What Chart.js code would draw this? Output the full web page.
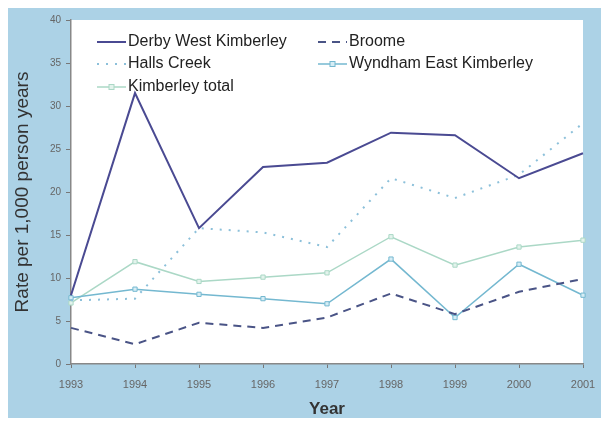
<!DOCTYPE html>
<html lang="en">
<head>
  <meta charset="UTF-8">
  <title>Kimberley rates</title>
  <script src="https://cdn.jsdelivr.net/npm/chart.js"></script>
  <style>
    body { margin: 0; padding: 0; background: #fff; }
    .wrap { position: relative; width: 603px; height: 426px; }
  </style>
</head>
<body>
  <div class="wrap">
    <canvas id="rateChart" width="603" height="426"></canvas>
  </div>

  <script>
    // Data
    const years = ['1993', '1994', '1995', '1996', '1997', '1998', '1999', '2000', '2001'];
    const derby = [8.0, 31.5, 15.8, 22.9, 23.4, 26.9, 26.6, 21.6, 24.5];
    const broome = [4.2, 2.3, 4.8, 4.2, 5.4, 8.2, 5.8, 8.4, 9.9];
    const hallsCreek = [7.4, 7.6, 15.8, 15.3, 13.6, 21.6, 19.3, 22.0, 28.0];
    const wyndham = [7.7, 8.7, 8.1, 7.6, 7.0, 12.2, 5.4, 11.6, 8.0];
    const kimberleyTotal = [7.1, 11.9, 9.6, 10.1, 10.6, 14.8, 11.5, 13.6, 14.4];
    const yTicks = [0, 5, 10, 15, 20, 25, 30, 35, 40];

    const FONT = '"Liberation Sans", Arial, sans-serif';

    // blue frame around, white plot area
    const frame = {
      id: 'frame',
      beforeDraw(chart) {
        const c = chart.ctx, a = chart.chartArea;
        c.save();
        c.fillStyle = '#fff';
        c.fillRect(0, 0, chart.width, chart.height);
        c.fillStyle = '#acd2e6';
        c.fillRect(8, 8, 593, 410);
        c.fillStyle = '#fff';
        c.fillRect(a.left, a.top, a.right - a.left, a.bottom - a.top);
        c.restore();
      }
    };

    // Legend in two columns, drawn inside the plot
    const legendBox = {
      id: 'legendBox',
      afterDatasetsDraw(chart) {
        const c = chart.ctx;
        const spots = [
          { i: 0, x: 97, y: 42 }, { i: 1, x: 318, y: 42 },
          { i: 2, x: 97, y: 64 }, { i: 3, x: 318, y: 64 },
          { i: 4, x: 97, y: 87 }
        ];
        c.save();
        spots.forEach(s => {
          const ds = chart.data.datasets[s.i];
          c.strokeStyle = ds.borderColor;
          c.lineWidth = ds.borderWidth;
          c.setLineDash(ds.borderDash || []);
          c.beginPath();
          c.moveTo(s.x, s.y);
          c.lineTo(s.x + 29, s.y);
          c.stroke();
          c.setLineDash([]);
          if (ds.pointRadius > 0) {
            c.fillStyle = ds.pointBackgroundColor;
            c.lineWidth = 1;
            c.fillRect(s.x + 12, s.y - 2.5, 5, 5);
            c.strokeRect(s.x + 12, s.y - 2.5, 5, 5);
          }
          c.fillStyle = '#222';
          c.font = '16px ' + FONT;
          c.textBaseline = 'middle';
          c.fillText(ds.label, s.x + 31, s.y);
        });
        c.restore();
      }
    };

    const ctx = document.getElementById('rateChart').getContext('2d');
    new Chart(ctx, {
      type: 'line',
      data: {
        labels: years,
        datasets: [
          {
            label: 'Derby West Kimberley',
            data: derby,
            borderColor: '#4a4a92',
            borderWidth: 2,
            pointRadius: 0,
            tension: 0
          },
          {
            label: 'Broome',
            data: broome,
            borderColor: '#4a5486',
            borderWidth: 2,
            borderDash: [8, 6],
            pointRadius: 0,
            tension: 0
          },
          {
            label: 'Halls Creek',
            data: hallsCreek,
            borderColor: '#8cc0da',
            borderWidth: 2,
            borderDash: [2, 7],
            pointRadius: 0,
            tension: 0
          },
          {
            label: 'Wyndham East Kimberley',
            data: wyndham,
            borderColor: '#74b8d0',
            borderWidth: 1.5,
            pointStyle: 'rect',
            pointRadius: 3,
            pointBackgroundColor: '#d6edf5',
            pointBorderColor: '#74b8d0',
            pointBorderWidth: 1,
            tension: 0
          },
          {
            label: 'Kimberley total',
            data: kimberleyTotal,
            borderColor: '#abd8c6',
            borderWidth: 1.5,
            pointStyle: 'rect',
            pointRadius: 3,
            pointBackgroundColor: '#e3f3ec',
            pointBorderColor: '#abd8c6',
            pointBorderWidth: 1,
            tension: 0
          }
        ]
      },
      options: {
        responsive: false,
        animation: false,
        layout: { padding: { left: 0, top: 20, right: 20, bottom: 0 } },
        plugins: {
          legend: { display: false },
          tooltip: { enabled: false }
        },
        scales: {
          x: {
            offset: false,
            grid: { display: true, drawOnChartArea: false, drawTicks: true, tickLength: 4, color: '#777' },
            border: { display: true, color: '#888', width: 1.5 },
            ticks: {
              color: '#666',
              font: { size: 11, family: FONT },
              padding: 10,
              maxRotation: 0,
              autoSkip: false
            },
            title: {
              display: true,
              text: 'Year',
              color: '#333',
              font: { size: 17, weight: 'bold', family: FONT },
              padding: { top: 0, bottom: 6 }
            },
            afterFit(scale) {
              scale.height = 62;
              scale.paddingLeft = 0;
              scale.paddingRight = 0;
            }
          },
          y: {
            min: 0,
            max: 40,
            afterBuildTicks(scale) { scale.ticks = yTicks.map(v => ({ value: v })); },
            grid: { display: true, drawOnChartArea: false, drawTicks: true, tickLength: 5, color: '#777' },
            border: { display: true, color: '#888', width: 1.5 },
            ticks: {
              color: '#666',
              font: { size: 10, family: FONT },
              padding: 5
            },
            title: {
              display: true,
              text: 'Rate per 1,000 person years',
              color: '#333',
              font: { size: 19, family: FONT },
              padding: { top: 11, bottom: 0 }
            },
            afterFit(scale) { scale.width = 71; }
          }
        }
      },
      plugins: [frame, legendBox]
    });
  </script>
</body>
</html>
